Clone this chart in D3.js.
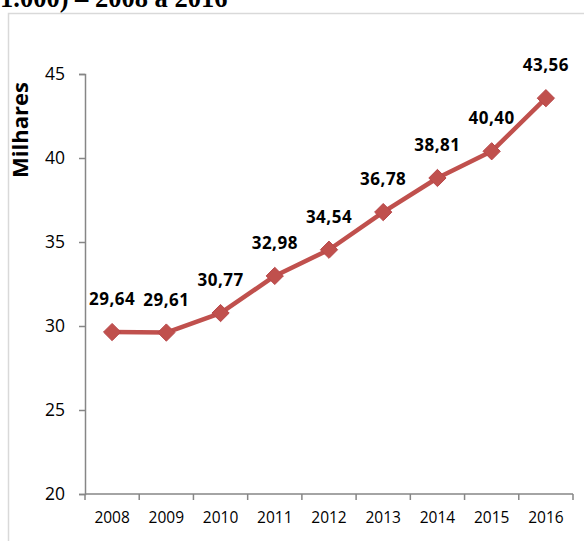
<!DOCTYPE html>
<html><head><meta charset="utf-8">
<script src="https://cdn.jsdelivr.net/npm/d3@7/dist/d3.min.js"></script>
<style>html,body{margin:0;padding:0;background:#fff;overflow:hidden}</style>
</head><body>
<svg id="c" width="584" height="541"></svg>
<script>
const years = ["2008","2009","2010","2011","2012","2013","2014","2015","2016"];
const values = [29.64, 29.61, 30.77, 32.98, 34.54, 36.78, 38.81, 40.40, 43.56];
const valueLabels = ["29,64","29,61","30,77","32,98","34,54","36,78","38,81","40,40","43,56"];
const yTicks = [20, 25, 30, 35, 40, 45];
const titleText = "1.000) – 2008 a 2016";
const yTitle = "Milhares";

const svg = d3.select("#c");
const red = "#C0504D";
const axisColor = "#868686";
const font = "'Open Sans', Lato, sans-serif";

svg.append("text").attr("x", 0).attr("y", 7)
  .attr("font-family", "'Liberation Serif', 'Times New Roman', serif")
  .attr("font-weight", "bold").attr("font-size", 26.5).attr("fill", "#000")
  .text(titleText);

svg.append("rect").attr("x", 8.5).attr("y", 13.5).attr("width", 620).attr("height", 600)
  .attr("fill", "none").attr("stroke", "#d9d9d9").attr("stroke-width", 1.5);

const x = d3.scaleBand().domain(years).range([85, 573]).padding(0);
const y = d3.scaleLinear().domain([20, 45]).range([494, 74]);

// Y axis
const yAxis = svg.append("g").attr("transform", "translate(85,0)")
  .call(d3.axisLeft(y).tickValues(yTicks).tickSize(6).tickPadding(14).tickFormat(d3.format("d")));
yAxis.select(".domain").attr("stroke", axisColor).attr("stroke-width", 1.5);
yAxis.selectAll(".tick line").attr("stroke", axisColor).attr("stroke-width", 1.5);
yAxis.selectAll(".tick text").attr("font-family", font).attr("font-size", 17.5).attr("fill", "#000");

// X axis with boundary ticks
const xg = svg.append("g").attr("transform", "translate(0,494)");
xg.append("line").attr("x1", 85).attr("x2", 573).attr("stroke", axisColor).attr("stroke-width", 1.5);
const bounds = years.map(d => x(d)).concat([x(years[years.length-1]) + x.bandwidth()]);
xg.selectAll("line.tk").data(bounds).enter().append("line").attr("class","tk")
  .attr("x1", d => d).attr("x2", d => d).attr("y1", 0).attr("y2", 6)
  .attr("stroke", axisColor).attr("stroke-width", 1.5);
xg.selectAll("text").data(years).enter().append("text")
  .attr("x", d => x(d) + x.bandwidth()/2).attr("y", 29)
  .attr("text-anchor", "middle").attr("font-family", font).attr("font-size", 15.5).attr("fill", "#000")
  .text(d => d);

// Y title
svg.append("text").attr("transform", "translate(28,130) rotate(-90)")
  .attr("text-anchor", "middle").attr("font-family", font).attr("font-weight", "bold")
  .attr("font-size", 22).attr("fill", "#000").text(yTitle);

const cx = (d, i) => x(years[i]) + x.bandwidth()/2;
const line = d3.line().x((d, i) => cx(d, i)).y(d => y(d));
svg.append("path").datum(values).attr("d", line)
  .attr("fill", "none").attr("stroke", red).attr("stroke-width", 4.5).attr("stroke-linejoin", "round");

const sym = d3.symbol().type(d3.symbolDiamond2).size(190);
svg.selectAll("path.m").data(values).enter().append("path").attr("class", "m")
  .attr("d", sym).attr("transform", (d, i) => `translate(${cx(d,i)},${y(d)})`)
  .attr("fill", red).attr("stroke", "#B8474A").attr("stroke-width", 1);

svg.selectAll("text.lbl").data(values).enter().append("text").attr("class", "lbl")
  .attr("x", (d, i) => cx(d, i)).attr("y", d => y(d) - 27)
  .attr("text-anchor", "middle").attr("font-family", font).attr("font-weight", "bold")
  .attr("font-size", 17).attr("letter-spacing", 0.5).attr("fill", "#000")
  .text((d, i) => valueLabels[i]);
</script>
</body></html>
